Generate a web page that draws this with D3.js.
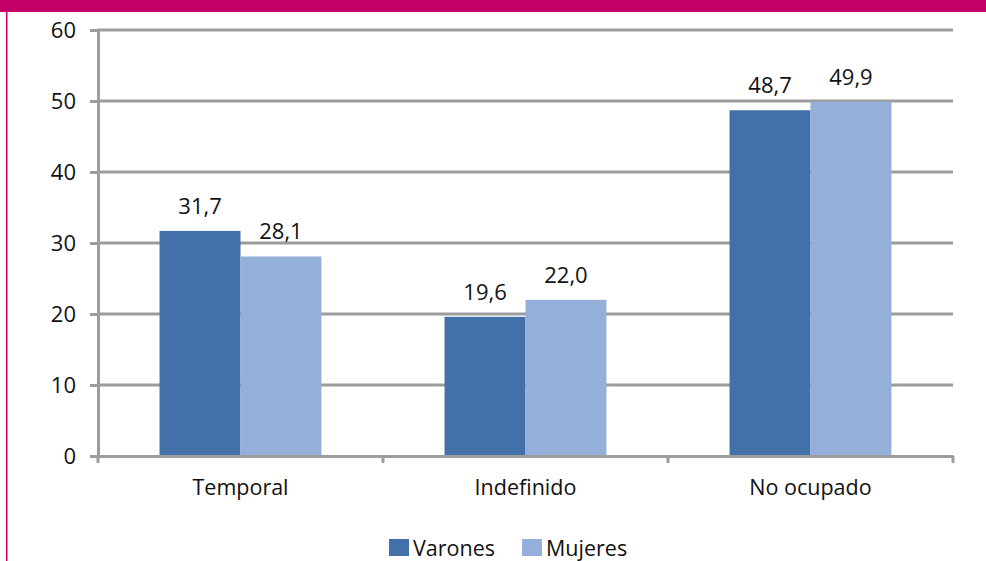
<!DOCTYPE html>
<html>
<head>
<meta charset="utf-8">
<script src="https://cdn.jsdelivr.net/npm/d3@7"></script>
<style>
  body { margin: 0; background: #fff; }
  svg text { font-family: "Open Sans", "Noto Sans", sans-serif; fill: #111; }
</style>
</head>
<body>
<div id="chart"></div>
<script>
// data
var categories = ["Temporal", "Indefinido", "No ocupado"];
var seriesNames = ["Varones", "Mujeres"];
var varones = [31.7, 19.6, 48.7];
var mujeres = [28.1, 22.0, 49.9];
var yTicks = [0, 10, 20, 30, 40, 50, 60];

var colors = ["#4270a9", "#94afd9"];

var W = 986, H = 561;
var margin = {top: 30, right: 33, bottom: 105, left: 98};
var width = W - margin.left - margin.right,
    height = H - margin.top - margin.bottom;

var svg = d3.select("#chart").append("svg")
    .attr("width", W).attr("height", H);

// frame: magenta band on top + thin left border
svg.append("rect").attr("x", 0).attr("y", 0).attr("width", W).attr("height", 12)
    .attr("fill", "#c40068");
svg.append("rect").attr("x", 6).attr("y", 12).attr("width", 1.5).attr("height", H - 12)
    .attr("fill", "#c40068");

var chart = svg.append("g")
    .attr("transform", "translate(" + margin.left + "," + margin.top + ")");

var x = d3.scaleBand().domain(categories).range([0, width]).padding(0);
var x1 = d3.scaleBand().domain(seriesNames).range([0, x.bandwidth()]).paddingInner(0).paddingOuter(0.76);
var y = d3.scaleLinear().domain([0, 60]).range([height, 0]);

// gridlines
chart.append("g").selectAll("line")
  .data(yTicks.filter(function(d) { return d > 0; }))
  .enter().append("line")
    .attr("x1", 0).attr("x2", width)
    .attr("y1", function(d) { return y(d); })
    .attr("y2", function(d) { return y(d); })
    .attr("stroke", "#9c9c9c").attr("stroke-width", 3);

// bars
var rows = categories.map(function(c, i) { return {cat: c, vals: [varones[i], mujeres[i]]}; });
var grp = chart.selectAll(".cat").data(rows).enter().append("g")
    .attr("transform", function(d) { return "translate(" + x(d.cat) + ",0)"; });

grp.selectAll("rect")
  .data(function(d) { return d.vals.map(function(v, j) { return {s: seriesNames[j], v: v, j: j}; }); })
  .enter().append("rect")
    .attr("x", function(d) { return x1(d.s); })
    .attr("y", function(d) { return y(d.v); })
    .attr("width", x1.bandwidth())
    .attr("height", function(d) { return height - y(d.v); })
    .attr("fill", function(d) { return colors[d.j]; });

grp.selectAll(".val")
  .data(function(d) { return d.vals.map(function(v, j) { return {s: seriesNames[j], v: v}; }); })
  .enter().append("text")
    .attr("x", function(d) { return x1(d.s) + x1.bandwidth() / 2; })
    .attr("y", function(d) { return y(d.v) - 17; })
    .attr("text-anchor", "middle")
    .style("font-size", "22px")
    .text(function(d) { return d3.format(".1f")(d.v).replace(".", ","); });

// y axis
var yAxis = chart.append("g")
    .call(d3.axisLeft(y).tickValues(yTicks).tickSize(8).tickPadding(14));
yAxis.select(".domain").attr("stroke", "#9c9c9c").attr("stroke-width", 3);
yAxis.selectAll(".tick line").attr("stroke", "#9c9c9c").attr("stroke-width", 3);
yAxis.selectAll(".tick text").style("font-size", "22px")
    .style("font-family", "'Open Sans', sans-serif").attr("fill", "#111");

// x axis with boundary ticks
var xAxis = chart.append("g").attr("transform", "translate(0," + height + ")")
    .call(d3.axisBottom(x).tickSize(0).tickPadding(17).tickSizeOuter(0));
xAxis.select(".domain").attr("stroke", "#9c9c9c").attr("stroke-width", 3);
xAxis.selectAll(".tick text").style("font-size", "21.5px")
    .style("font-family", "'Open Sans', sans-serif").attr("fill", "#111").attr("dy", "1em");
var bounds = categories.map(function(c) { return x(c); }).concat([width]);
xAxis.selectAll(".bound").data(bounds).enter().append("line")
    .attr("x1", function(d) { return d; }).attr("x2", function(d) { return d; })
    .attr("y1", 0).attr("y2", 7)
    .attr("stroke", "#9c9c9c").attr("stroke-width", 3);

// legend
var legend = svg.append("g").attr("transform", "translate(389,539)");
var legX = [0, 133];
seriesNames.forEach(function(s, i) {
  legend.append("rect").attr("x", legX[i]).attr("y", 0).attr("width", 20).attr("height", 17)
      .attr("fill", colors[i]);
  legend.append("text").attr("x", legX[i] + 24).attr("y", 17)
      .style("font-size", "21.5px").text(s);
});
</script>
</body>
</html>
